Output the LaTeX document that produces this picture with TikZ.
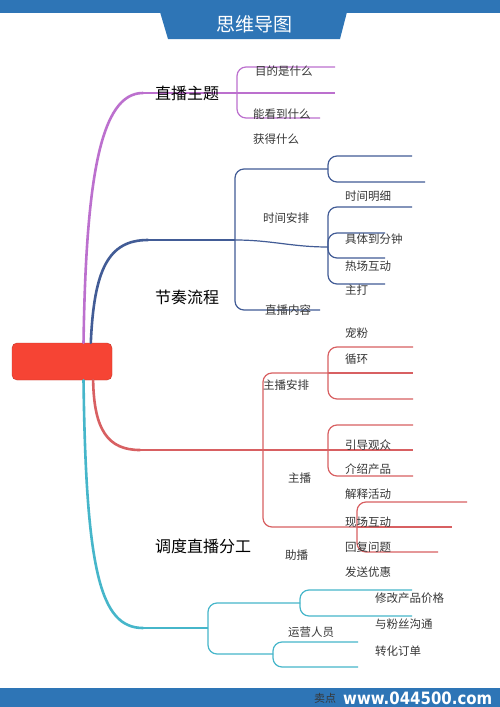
\documentclass[tikz,border=0pt]{standalone}
\usepackage{fontspec}
\setmainfont{Noto Sans CJK SC}
\newfontfamily\wmfont{DejaVu Sans}
\definecolor{barblue}{RGB}{46,117,182}
\definecolor{hubred}{RGB}{246,68,52}
\definecolor{lilac}{RGB}{188,112,206}
\definecolor{navy}{RGB}{66,92,150}
\definecolor{rose}{RGB}{216,96,98}
\definecolor{teal}{RGB}{70,182,202}
\definecolor{ink}{RGB}{55,55,55}

\begin{document}
\begin{tikzpicture}[x=1pt, y=-1pt,
	trunk/.style = {line width=2.6pt, line cap=round},
	limb/.style = {line width=1.2pt, rounded corners=9pt},
	hub/.style = {fill=hubred, draw=hubred!80!black, line width=0.4pt, rounded corners=5pt, minimum width=100pt, minimum height=37pt, inner sep=0pt},
	topic/.style = {font=\fontsize{16}{18}\selectfont, text=black, inner sep=0pt, anchor=west},
	leaf/.style = {font=\fontsize{11.5}{13}\selectfont, text=ink, inner sep=0pt, anchor=west}]
	\useasboundingbox (0,0) rectangle (500,707);
	\fill[white] (0,0) rectangle (500,707);
	\fill[barblue] (0,0) rectangle (500,13);
	\fill[barblue] (160,12) -- (347,12) -- (340,39) -- (168,39) -- cycle;
	\node[font=\fontsize{19}{21}\selectfont, text=white] (title) at (254,24) {思维导图};
	\fill[barblue] (0,688) rectangle (500,707);
	\node[font=\fontsize{11}{13}\selectfont, text=ink, anchor=west, inner sep=0pt] (sell) at (314,698) {卖点};
	\node[font=\wmfont\bfseries\fontsize{17}{19}\selectfont, text=white, anchor=west, inner sep=0pt, xscale=0.88] (www) at (343,698) {www.044500.com};

	\node[hub] (hub) at (62,361.5) {};

	\coordinate (p1) at (143,93);
	\coordinate (p2) at (237,93);
	\coordinate (p3) at (335,67);
	\coordinate (p4) at (335,93);
	\coordinate (p5) at (320,118);
	\draw[trunk, lilac] (hub.41) .. controls (86,180) and (100,93) .. (p1);
	\draw[limb, lilac] (p1) -- (p2);
	\draw[limb, lilac] (p2) |- (p3);
	\draw[limb, lilac] (p2) -- (p4);
	\draw[limb, lilac] (p2) |- (p5);

	\coordinate (b1) at (148,240);
	\coordinate (b2) at (235,240);
	\coordinate (b3) at (328,169);
	\coordinate (b4) at (320,310);
	\coordinate (b5) at (328,247);
	\coordinate (b6) at (412,156);
	\coordinate (b7) at (425,182);
	\coordinate (b8) at (412,207);
	\coordinate (b9) at (385,233);
	\coordinate (b10) at (385,258);
	\coordinate (b11) at (385,284);
	\draw[trunk, navy] (hub.33) .. controls (94,270) and (108,240) .. (b1);
	\draw[limb, navy] (b1) -- (b2);
	\draw[limb, navy] (b2) |- (b3);
	\draw[limb, navy] (b2) to[out=0, in=180] (b5);
	\draw[limb, navy] (b2) |- (b4);
	\draw[limb, navy] (b3) |- (b6);
	\draw[limb, navy] (b3) |- (b7);
	\draw[limb, navy] (b5) |- (b8);
	\draw[limb, navy] (b5) |- (b9);
	\draw[limb, navy] (b5) |- (b10);
	\draw[limb, navy] (b5) |- (b11);

	\coordinate (r1) at (140,450);
	\coordinate (r2) at (263,450);
	\coordinate (r3) at (328,373);
	\coordinate (r4) at (328,450);
	\coordinate (r5) at (357,527);
	\coordinate (r6) at (413,347);
	\coordinate (r7) at (413,373);
	\coordinate (r8) at (413,399);
	\coordinate (r9) at (413,425);
	\coordinate (r10) at (413,450);
	\coordinate (r11) at (413,476);
	\coordinate (r12) at (467,502);
	\coordinate (r13) at (452,527);
	\coordinate (r14) at (438,552);
	\draw[trunk, rose] (hub.-31) .. controls (94,430) and (108,450) .. (r1);
	\draw[limb, rose] (r1) -- (r2);
	\draw[limb, rose] (r2) |- (r3);
	\draw[limb, rose] (r2) -- (r4);
	\draw[limb, rose] (r2) |- (r5);
	\draw[limb, rose] (r3) |- (r6);
	\draw[limb, rose] (r3) -- (r7);
	\draw[limb, rose] (r3) |- (r8);
	\draw[limb, rose] (r4) |- (r9);
	\draw[limb, rose] (r4) -- (r10);
	\draw[limb, rose] (r4) |- (r11);
	\draw[limb, rose] (r5) |- (r12);
	\draw[limb, rose] (r5) -- (r13);
	\draw[limb, rose] (r5) |- (r14);

	\coordinate (c1) at (143,628);
	\coordinate (c2) at (208,628);
	\coordinate (c3) at (300,603);
	\coordinate (c4) at (273,654);
	\coordinate (c5) at (412,590);
	\coordinate (c6) at (412,616);
	\coordinate (c7) at (358,642);
	\coordinate (c8) at (358,667);
	\draw[trunk, teal] (hub.-41) .. controls (86,570) and (100,628) .. (c1);
	\draw[limb, teal] (c1) -- (c2);
	\draw[limb, teal] (c2) |- (c3);
	\draw[limb, teal] (c2) |- (c4);
	\draw[limb, teal] (c3) |- (c5);
	\draw[limb, teal] (c3) |- (c6);
	\draw[limb, teal] (c4) |- (c7);
	\draw[limb, teal] (c4) |- (c8);

	\node[topic] (t1) at (155,93) {直播主题};
	\node[topic] (t2) at (155,297) {节奏流程};
	\node[topic] (t3) at (155,546) {调度直播分工};

	\node[leaf] (a1) at (255,71) {目的是什么};
	\node[leaf] (a2) at (253,114) {能看到什么};
	\node[leaf] (a3) at (253,139) {获得什么};
	\node[leaf] (a4) at (263,218) {时间安排};
	\node[leaf] (a5) at (345,196) {时间明细};
	\node[leaf] (a6) at (345,239) {具体到分钟};
	\node[leaf] (a7) at (345,266) {热场互动};
	\node[leaf] (a8) at (345,290) {主打};
	\node[leaf] (a9) at (265,310) {直播内容};
	\node[leaf] (a10) at (263,385) {主播安排};
	\node[leaf] (a11) at (345,333) {宠粉};
	\node[leaf] (a12) at (345,359) {循环};
	\node[leaf] (a13) at (345,445) {引导观众};
	\node[leaf] (a14) at (345,469) {介绍产品};
	\node[leaf] (a15) at (288,478) {主播};
	\node[leaf] (a16) at (345,494) {解释活动};
	\node[leaf] (a17) at (345,522) {现场互动};
	\node[leaf] (a18) at (345,547) {回复问题};
	\node[leaf] (a19) at (345,572) {发送优惠};
	\node[leaf] (a20) at (285,555) {助播};
	\node[leaf] (a21) at (375,598) {修改产品价格};
	\node[leaf] (a22) at (375,624) {与粉丝沟通};
	\node[leaf] (a23) at (288,632) {运营人员};
	\node[leaf] (a24) at (375,651) {转化订单};
\end{tikzpicture}
\end{document}
